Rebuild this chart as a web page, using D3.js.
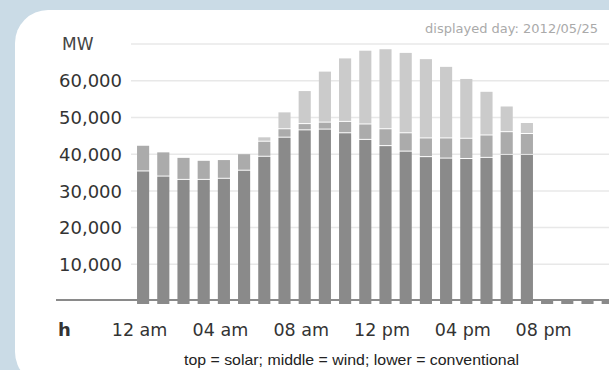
<!DOCTYPE html>
<html>
<head>
<meta charset="utf-8">
<script src="https://cdn.jsdelivr.net/npm/d3@7"></script>
<style>
  body { margin: 0; background: #cadbe6; }
  svg { display: block; }
</style>
</head>
<body>
<div id="chart-area"></div>
<script>
// hourly power generation, MW
var hours = d3.range(24)
var conventional = [35300, 33900, 33000, 33000, 33300, 35500, 39300, 44500, 46500, 46700, 45700, 43900,
                    42200, 40700, 39200, 38800, 38700, 39000, 39800, 39800, 0, 0, 0, 0]
var wind = [7000, 6600, 6000, 5200, 5100, 4500, 4100, 2300, 1700, 1900, 3100, 4200,
            4600, 5000, 5100, 5500, 5500, 6100, 6200, 5700, 0, 0, 0, 0]
var solar = [0, 0, 0, 0, 0, 0, 1200, 4600, 9000, 13900, 17300, 20100,
             21800, 21900, 21600, 19500, 16300, 11900, 7000, 3000, 0, 0, 0, 0]
var yTicks = [10000, 20000, 30000, 40000, 50000, 60000, 70000]
var yLabels = [10000, 20000, 30000, 40000, 50000, 60000]
var xTicks = [0, 4, 8, 12, 16, 20]
var xLabels = ["12 am", "04 am", "08 am", "12 pm", "04 pm", "08 pm"]
var seriesNames = ["conventional", "wind", "solar"]
var colors = ["#8a8a8a", "#ababab", "#cbcbcb"]

var cw = 609
var ch = 370

var svg = d3.select("#chart-area").append("svg")
    .attr("width", cw)
    .attr("height", ch)

svg.append("rect")
    .attr("width", cw).attr("height", ch)
    .attr("fill", "#cadbe6")

// white panel with rounded corners
svg.append("rect")
    .attr("x", 15).attr("y", 10)
    .attr("width", 700).attr("height", 375)
    .attr("rx", 33)
    .attr("fill", "#fff")

var x = d3.scaleBand()
    .domain(hours)
    .range([133, 133 + 24 * 20.2])
    .paddingInner(0.4)
    .paddingOuter(0.2)

var y = d3.scaleLinear()
    .domain([0, 70000])
    .range([301, 44.1])

// gridlines
svg.append("g").selectAll("line")
    .data(yTicks)
    .enter().append("line")
    .attr("x1", 131).attr("x2", cw)
    .attr("y1", d => y(d)).attr("y2", d => y(d))
    .attr("stroke", "#e8e8e8")
    .attr("stroke-width", 1.5)

// y labels
svg.append("g").selectAll("text")
    .data(yLabels)
    .enter().append("text")
    .attr("x", 122)
    .attr("y", d => y(d))
    .attr("dy", "0.37em")
    .attr("text-anchor", "end")
    .attr("font-family", "DejaVu Sans")
    .attr("font-size", "18px")
    .attr("fill", "#333")
    .text(d => d3.format(",")(d))

svg.append("text")
    .attr("x", 62).attr("y", 50)
    .attr("font-family", "DejaVu Sans")
    .attr("font-size", "17px")
    .attr("fill", "#444")
    .text("MW")

svg.append("text")
    .attr("x", 598).attr("y", 32.5)
    .attr("text-anchor", "end")
    .attr("font-family", "DejaVu Sans")
    .attr("font-size", "13px")
    .attr("fill", "#aaa")
    .text("displayed day: 2012/05/25")

// stacked bars
var table = hours.map(h => ({
    hour: h,
    conventional: conventional[h],
    wind: wind[h],
    solar: solar[h]
}))
var stacked = d3.stack().keys(seriesNames)(table)

var bottom = y(0) + 3

stacked.forEach((layer, i) => {
    svg.append("g")
        .attr("fill", colors[i])
        .selectAll("rect")
        .data(layer.filter(d => i === 0 || d[1] > d[0]))
        .enter().append("rect")
        .attr("x", d => x(d.data.hour))
        .attr("width", x.bandwidth())
        .attr("y", d => y(d[1]))
        .attr("height", d => i === 0 ? bottom - y(d[1]) : Math.max(0, y(d[0]) - y(d[1]) - 1))
})

// baseline
svg.append("line")
    .attr("x1", 56).attr("x2", cw)
    .attr("y1", 300).attr("y2", 300)
    .attr("stroke", "#8a8a8a")
    .attr("stroke-width", 2)

// x labels
svg.append("text")
    .attr("x", 58).attr("y", 336)
    .attr("font-family", "DejaVu Sans")
    .attr("font-weight", "bold")
    .attr("font-size", "18px")
    .attr("fill", "#333")
    .text("h")

svg.append("g").selectAll("text")
    .data(xTicks)
    .enter().append("text")
    .attr("x", (d, i) => x(d) + x.bandwidth() / 2 - 3.5)
    .attr("y", 336)
    .attr("text-anchor", "middle")
    .attr("font-family", "DejaVu Sans")
    .attr("font-size", "17.5px")
    .attr("fill", "#333")
    .text((d, i) => xLabels[i])

svg.append("text")
    .attr("x", 184).attr("y", 365)
    .attr("font-family", "Liberation Sans")
    .attr("font-size", "14.5px")
    .attr("textLength", 335)
    .attr("lengthAdjust", "spacingAndGlyphs")
    .attr("fill", "#222")
    .text("top = solar; middle = wind; lower = conventional")
</script>
</body>
</html>
